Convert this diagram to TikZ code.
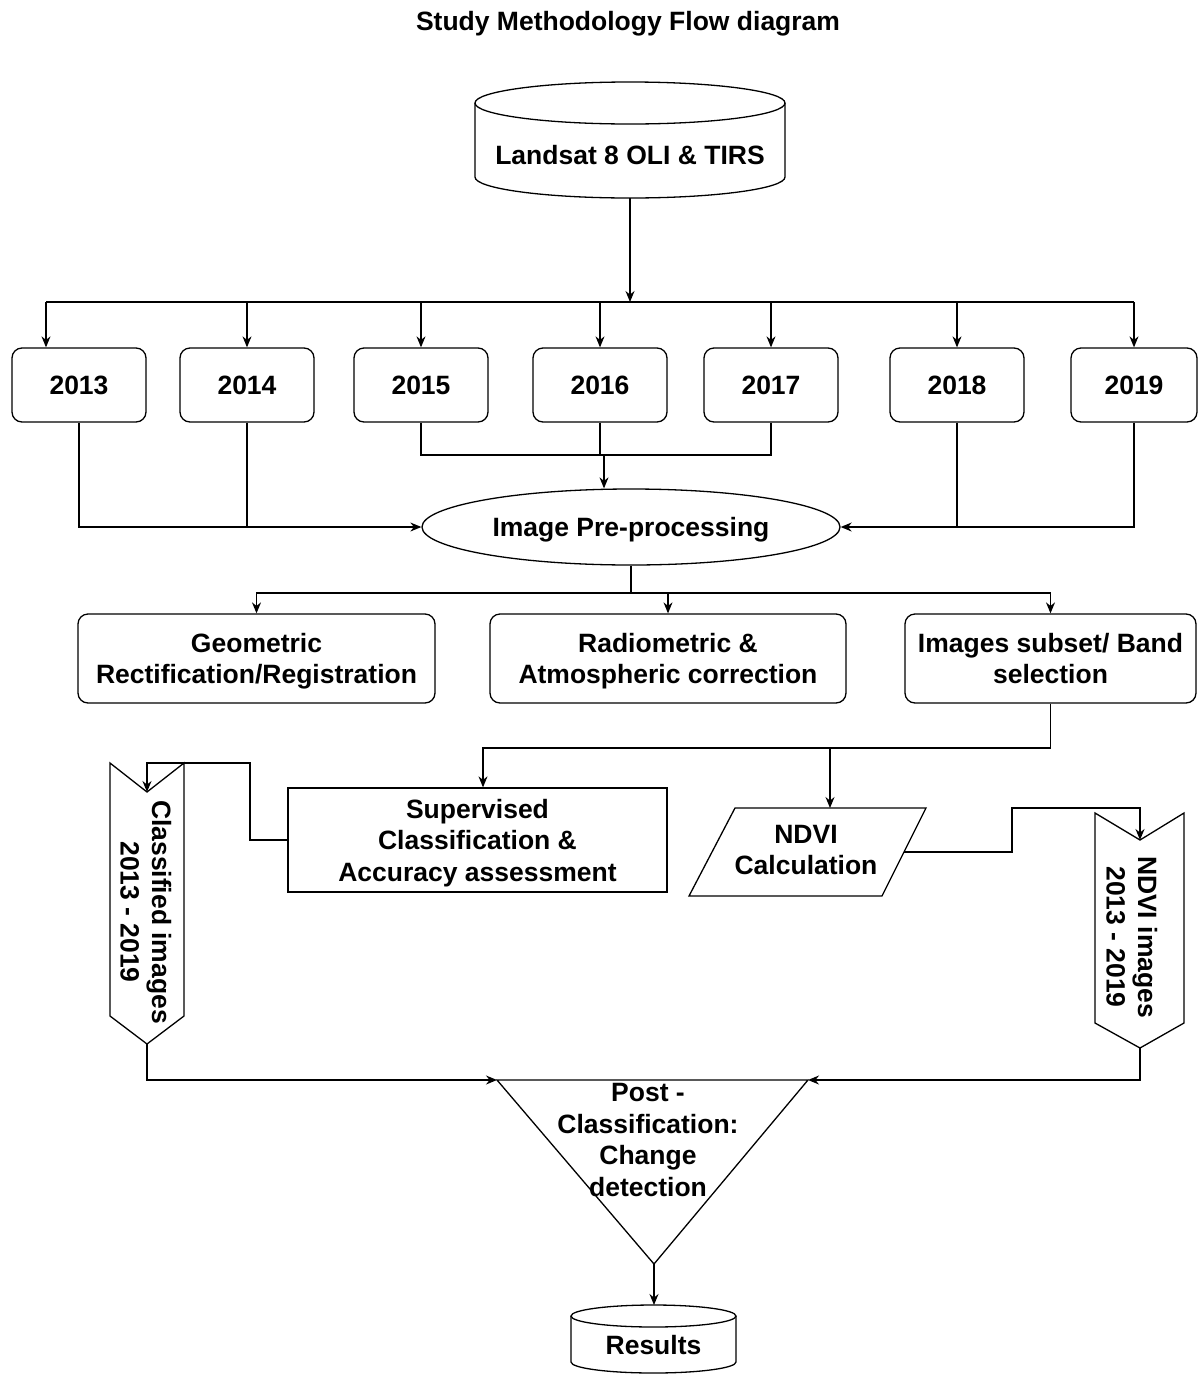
\documentclass[tikz,border=0pt]{standalone}
\usepackage{fontspec}
\setmainfont{Liberation Sans}
\usetikzlibrary{arrows.meta,shapes.geometric}
\begin{document}
\begin{tikzpicture}[x=1pt,y=-1pt,
  every node/.style={font=\fontsize{26.5}{31.5}\selectfont\bfseries, align=center, inner sep=0pt, text depth=0pt},
  line/.style={line width=1.3pt},
  arr/.style={line width=1.3pt, -{Stealth[length=11pt,width=9pt]}},
  rbox/.style={draw, line width=1.3pt, rounded corners=10pt, fill=white},
  yearbox/.style={rbox, minimum width=134pt, minimum height=74pt},
  procbox/.style={rbox, minimum height=89pt}]
\fill[white] (0,0) rectangle (1198,1374);
\useasboundingbox (0,0) rectangle (1198,1374);

% title
\node (title) at (628,21) {Study Methodology Flow diagram};

% Landsat cylinder
\draw[line, fill=white] (475,103) -- (475,177) arc[start angle=180,end angle=360,x radius=155pt,y radius=21pt] -- (785,103);
\draw[line] (630,103) ellipse[x radius=155pt, y radius=21pt];
\coordinate (landsat) at (630,198);
\node (landsattext) at (630,155) {Landsat 8 OLI \& TIRS};

% year boxes
\node[yearbox] (y2013) at (79,385) {2013};
\node[yearbox] (y2014) at (247,385) {2014};
\node[yearbox] (y2015) at (421,385) {2015};
\node[yearbox] (y2016) at (600,385) {2016};
\node[yearbox] (y2017) at (771,385) {2017};
\node[yearbox] (y2018) at (957,385) {2018};
\node[yearbox, minimum width=126pt] (y2019) at (1134,385) {2019};

% top bus
\coordinate (bus) at (630,302);
\coordinate (b1) at (46,302);
\coordinate (b7) at (1134,302);
\draw[arr] (landsat) -- (bus);
\draw[line] (b1) -- (b7);
\draw[arr] (b1) -- (b1 |- y2013.north);
\draw[arr] (y2014.north |- bus) -- (y2014.north);
\draw[arr] (y2015.north |- bus) -- (y2015.north);
\draw[arr] (y2016.north |- bus) -- (y2016.north);
\draw[arr] (y2017.north |- bus) -- (y2017.north);
\draw[arr] (y2018.north |- bus) -- (y2018.north);
\draw[arr] (b7) -- (y2019.north);

% pre-processing
\node[draw, ellipse, line width=1.3pt, minimum width=418pt, minimum height=76pt] (pre) at (631,527) {Image Pre-processing};

\draw[arr] (y2013.south) |- (pre.west);
\draw[line] (y2014.south) -- (y2014.south |- pre.west);
\coordinate (m) at (604,455);
\draw[line] (y2015.south) |- (m);
\draw[line] (y2017.south) |- (m);
\draw[line] (y2016.south) -- (y2016.south |- m);
\draw[arr] (m) -- (m |- pre.north);
\draw[arr] (y2019.south) |- (pre.east);
\draw[line] (y2018.south) -- (y2018.south |- pre.east);

% second row
\node[procbox, minimum width=357pt] (geo) at (256.5,658.5) {Geometric\\Rectification/Registration};
\node[procbox, minimum width=356pt] (rad) at (668,658.5) {Radiometric \&\\Atmospheric correction};
\node[procbox, minimum width=291pt] (sub) at (1050.5,658.5) {Images subset/ Band\\selection};
\coordinate (s) at (631,593);
\draw[line] (pre.south) -- (s);
\draw[arr] (s) -| (geo.north);
\draw[arr] (s) -| (rad.north);
\draw[arr] (s) -| (sub.north);

% supervised classification and NDVI
\node[draw, line width=1.3pt, minimum width=379pt, minimum height=104pt] (sup) at (477.5,840) {Supervised\\Classification \&\\Accuracy assessment};
\draw[line] (735,808) -- (926,808) -- (882,896) -- (689,896) -- cycle;
\node[minimum width=196pt, minimum height=88pt] (ndvi) at (806,850) {NDVI\\Calculation};

\coordinate (j1) at (483,748);
\coordinate (j2) at (830,748);
\draw[arr] (sub.south) |- (j1) -- (j1 |- sup.north);
\draw[arr] (j2) -- (830,808);

% classified images chevron
\coordinate (cn) at (147,792);
\coordinate (cb) at (147,1044);
\draw[line, fill=white] (110,763) -- (cn) -- (184,763) -- (184,1016) -- (cb) -- (110,1016) -- cycle;
\node[rotate=-90] (cltext) at (146,912) {Classified images\\2013 - 2019};
\coordinate (c1) at (250,763);
\coordinate (c2) at (147,763);
\draw[arr] (sup.west) -| (c1) -- (c2) -- (cn);

% NDVI images chevron
\coordinate (nn) at (1140,840);
\coordinate (nb) at (1140,1048);
\draw[line, fill=white] (1095,813) -- (nn) -- (1184,813) -- (1184,1023) -- (nb) -- (1095,1023) -- cycle;
\node[rotate=-90] (ndtext) at (1132,937) {NDVI images\\2013 - 2019};
\coordinate (nr) at (904,852);
\coordinate (d1) at (1012,808);
\coordinate (d2) at (1140,808);
\draw[arr] (nr) -| (d1) -- (d2) -- (nn);

% post classification triangle
\coordinate (tl) at (497,1080);
\coordinate (tr) at (808,1080);
\coordinate (tb) at (654,1264);
\draw[line] (tl) -- (tr) -- (tb) -- cycle;
\node (post) at (648,1140) {Post -\\Classification:\\Change\\detection};
\draw[arr] (cb) |- (tl);
\draw[arr] (nb) |- (tr);

% results cylinder
\draw[line, fill=white] (571,1316) -- (571,1362) arc[start angle=180,end angle=360,x radius=82.5pt,y radius=11pt] -- (736,1316);
\draw[line] (653.5,1316) ellipse[x radius=82.5pt, y radius=11pt];
\coordinate (res) at (654,1305);
\node (restext) at (653.5,1345) {Results};
\draw[arr] (tb) -- (res);
\end{tikzpicture}
\end{document}
